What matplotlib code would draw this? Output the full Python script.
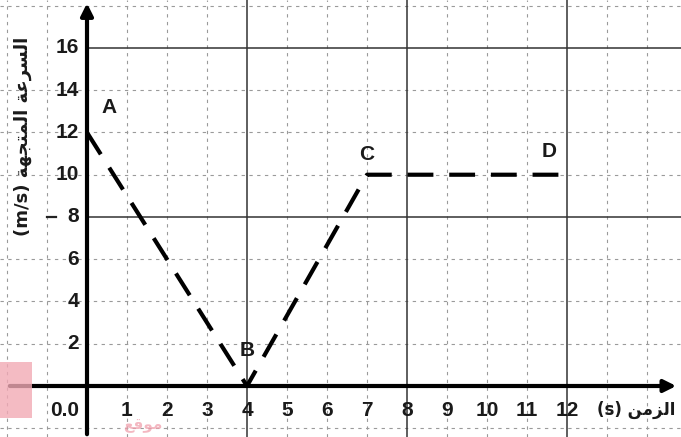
import numpy as np
import matplotlib.pyplot as plt
from matplotlib.patches import Rectangle

# Данные графика скорости: точки A, B, C, D
t_points = [0, 4, 7, 12]
v_points = [12, 0, 10, 10]
point_names = ['A', 'B', 'C', 'D']

x_ticks = [1, 2, 3, 4, 5, 6, 7, 8, 9, 10, 11, 12]
y_ticks = [2, 4, 6, 8, 10, 12, 14, 16]

# Арабские подписи (формы представления, порядок для вывода слева направо)
y_label = '(m/s) \ufe94\ufeec\ufea0\ufe98\ufee4\ufedf\ufe8d \ufe94\ufecb\ufeae\ufeb4\ufedf\ufe8d'
x_label = '(s) \ufee6\ufee3\ufeb0\ufedf\ufe8d'
mark_text = '\ufeca\ufed7\ufeee\ufee3'

fig = plt.figure(figsize=(6.81, 4.37), dpi=100)
ax = fig.add_axes([0, 0, 1, 1])
ax.set_xlim(-2.175, 14.85)
ax.set_ylim(-2.414, 18.27)
ax.axis('off')

grid_kw = dict(color='#9a9a9a', lw=0.8, linestyle=(0, (3, 4)), zorder=1)
for gx in [-2, -1, 1, 2, 3, 5, 6, 7, 9, 10, 11, 13, 14]:
    ax.axvline(gx, **grid_kw)
for gy in [-2, 2, 4, 6, 10, 12, 14, 18]:
    ax.axhline(gy, **grid_kw)

for gx in [4, 8, 12]:
    ax.axvline(gx, color='#333333', lw=1.1, zorder=2)
for gy in [8, 16]:
    ax.plot([0, 14.85], [gy, gy], color='#333333', lw=1.1, zorder=2)
ax.plot([-1.0, -0.78], [8, 8], color='#222222', lw=1.6, zorder=2)

# оси со стрелками
ax.annotate('', xy=(14.8, 0), xytext=(-2.0, 0),
            arrowprops=dict(arrowstyle='-|>', color='black', lw=3, mutation_scale=18),
            zorder=4)
ax.annotate('', xy=(0, 18.25), xytext=(0, -2.414),
            arrowprops=dict(arrowstyle='-|>', color='black', lw=3, mutation_scale=18),
            zorder=4)

# график
ax.plot(t_points, v_points, color='black', lw=3, linestyle=(0, (6.2, 3.8)), zorder=5)

font = dict(family='Liberation Sans', fontweight='bold', fontsize=15, color='#1a1a1a')
for xv in x_ticks:
    ax.text(xv, -1.15, str(xv), ha='center', va='center', **font)
ax.text(-0.55, -1.15, '0.0', ha='center', va='center', **font)
for yv in y_ticks:
    ax.text(-0.2, yv, str(yv), ha='right', va='center', **font)

offsets = [(0.55, 13.2), (4.0, 1.7), (7.0, 10.95), (11.55, 11.1)]
for name, (px, py) in zip(point_names, offsets):
    ax.text(px, py, name, ha='center', va='center', **font)

ax.text(-1.6, 11.8, y_label, rotation=90, ha='center', va='center',
        family=['DejaVu Sans'], fontweight='bold', fontsize=13, color='#1a1a1a')
ax.text(12.75, -1.15, x_label, ha='left', va='center',
        family=['DejaVu Sans'], fontweight='bold', fontsize=12, color='#1a1a1a')

# водяной знак
ax.add_patch(Rectangle((-2.175, -1.52), 0.8, 2.66, color='#f2aab5', alpha=0.8,
                       lw=0, zorder=6))
ax.text(1.4, -1.85, mark_text, ha='center', va='center', family=['DejaVu Sans'],
        fontweight='bold', fontsize=11, color='#f0a0ad', alpha=0.75, zorder=3)

fig.savefig('out.png', dpi=100)
